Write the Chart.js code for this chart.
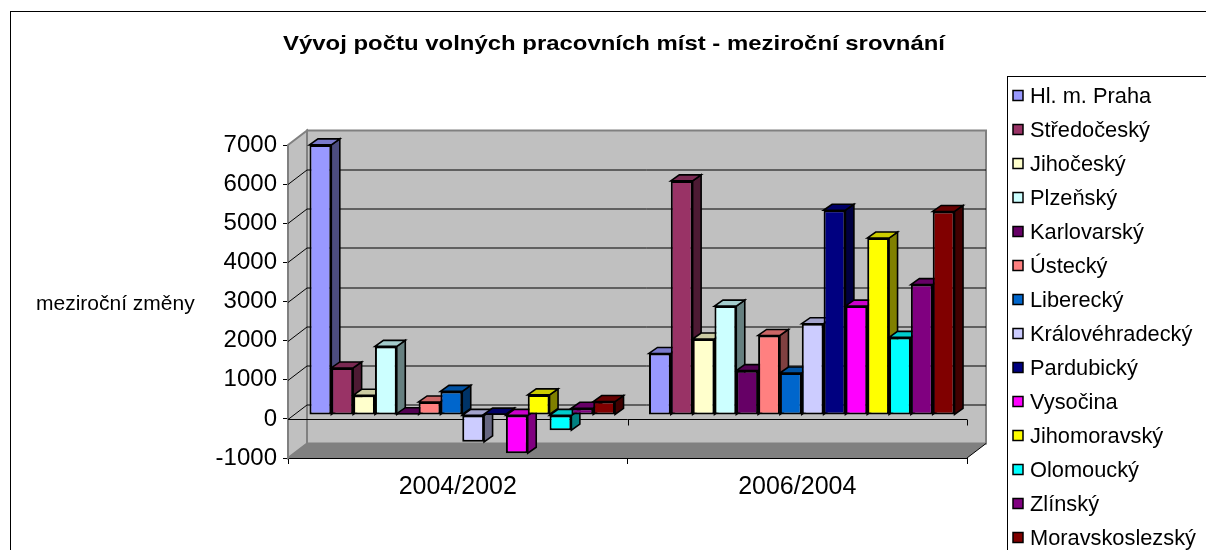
<!DOCTYPE html>
<html><head><meta charset="utf-8">
<script src="https://cdn.jsdelivr.net/npm/chart.js@4/dist/chart.umd.min.js"></script>
<style>html,body{margin:0;padding:0;background:#fff;overflow:hidden}#wrap{width:1206px;height:550px;position:relative}</style>
</head><body><div id="wrap"><canvas id="c" width="1206" height="550"></canvas></div>
<script>
// ---- data ----
const categories = ['2004/2002', '2006/2004'];
const regions = ['Hl. m. Praha', 'Středočeský', 'Jihočeský', 'Plzeňský', 'Karlovarský', 'Ústecký', 'Liberecký', 'Královéhradecký', 'Pardubický', 'Vysočina', 'Jihomoravský', 'Olomoucký', 'Zlínský', 'Moravskoslezský'];
const change2004_2002 = [6900, 1200, 500, 1750, 30, 330, 600, -690, 20, -980, 510, -390, 170, 340];
const change2006_2004 = [1570, 5980, 1940, 2780, 1130, 2030, 1070, 2330, 5230, 2780, 4520, 1980, 3330, 5200];
const regionColors = ['#9999FF', '#993366', '#FFFFCC', '#CCFFFF', '#660066', '#FF8080', '#0066CC', '#CCCCFF', '#000080', '#FF00FF', '#FFFF00', '#00FFFF', '#800080', '#800000'];
const yMin = -1000, yMax = 7000, yStep = 1000;
const chartTitle = 'Vývoj počtu volných pracovních míst - meziroční srovnání';
const yTitle = 'meziroční změny';

// ---- styling ----
const FONT = '"Liberation Sans", Arial, Helvetica, sans-serif';
const WALL = {dx: 19, dy: -14.5};
const BAR = {dx: 4.5, dy: -4, ddx: 8.5, ddy: -6};

function shade(hex, f) {
  const n = parseInt(hex.slice(1), 16);
  const r = (n >> 16) & 255, g = (n >> 8) & 255, b = n & 255;
  return 'rgb(' + Math.round(r * f) + ',' + Math.round(g * f) + ',' + Math.round(b * f) + ')';
}
function poly(ctx, pts, fill, stroke, lw) {
  ctx.beginPath();
  ctx.moveTo(pts[0][0], pts[0][1]);
  for (let i = 1; i < pts.length; i++) ctx.lineTo(pts[i][0], pts[i][1]);
  ctx.closePath();
  if (fill) { ctx.fillStyle = fill; ctx.fill(); }
  if (stroke) { ctx.strokeStyle = stroke; ctx.lineWidth = lw || 1; ctx.lineJoin = 'miter'; ctx.stroke(); }
}
function seg(ctx, x1, y1, x2, y2) { ctx.beginPath(); ctx.moveTo(x1, y1); ctx.lineTo(x2, y2); ctx.stroke(); }
function stretchedText(ctx, text, cx, y, targetW) {
  const w = ctx.measureText(text).width;
  const s = targetW / w;
  ctx.save();
  ctx.translate(cx, y);
  ctx.scale(s, 1);
  ctx.textAlign = 'center';
  ctx.fillText(text, 0, 0);
  ctx.restore();
}

function barBoxes(chart) {
  const out = [];
  chart.data.datasets.forEach((ds, i) => {
    const meta = chart.getDatasetMeta(i);
    meta.data.forEach(el => {
      const p = el.getProps(['x', 'y', 'base', 'width'], true);
      out.push({color: ds.backgroundColor, xl: p.x - p.width / 2, xr: p.x + p.width / 2,
        top: Math.min(p.y, p.base), bot: Math.max(p.y, p.base)});
    });
  });
  return out;
}

const excel3d = {
  id: 'excel3d',
  beforeDatasetsDraw(chart) {
    const ctx = chart.ctx, a = chart.chartArea, y = chart.scales.y;
    const L = a.left, R = a.right, T = a.top, B = a.bottom, dx = WALL.dx, dy = WALL.dy;
    ctx.save();
    poly(ctx, [[L, T], [L + dx, T + dy], [L + dx, B + dy], [L, B]], '#c0c0c0', '#808080', 2);
    poly(ctx, [[L + dx, T + dy], [R + dx, T + dy], [R + dx, B + dy], [L + dx, B + dy]], '#c0c0c0', '#808080', 2);
    poly(ctx, [[L, B], [L + dx, B + dy], [R + dx, B + dy], [R, B]], '#808080', null);
    ctx.strokeStyle = '#000'; ctx.lineWidth = 1;
    seg(ctx, R, B, R + dx, B + dy);
    y.ticks.forEach(t => {
      if (t.value <= yMin || t.value >= yMax) return;
      const py = Math.round(y.getPixelForValue(t.value)) + 0.5;
      ctx.beginPath();
      ctx.moveTo(L, py); ctx.lineTo(L + dx, py + dy); ctx.lineTo(R + dx, py + dy);
      ctx.stroke();
    });
    // front category axis at value 0
    const y0 = Math.round(y.getPixelForValue(0)) + 0.5;
    seg(ctx, L, y0, R, y0);
    for (let i = 1; i <= categories.length; i++) {
      const px = Math.round(L + (R - L) * i / categories.length) + 0.5;
      seg(ctx, px, y0, px, y0 + 6);
    }
    ctx.restore();
    // bars are set back into depth; draw their side and top faces first
    ctx.save();
    ctx.translate(BAR.dx, BAR.dy);
    const boxes = barBoxes(chart);
    boxes.forEach(b => {
      poly(ctx, [[b.xr, b.top], [b.xr + BAR.ddx, b.top + BAR.ddy], [b.xr + BAR.ddx, b.bot + BAR.ddy], [b.xr, b.bot]], shade(b.color, 0.5), '#000', 1.6);
    });
    boxes.forEach(b => {
      poly(ctx, [[b.xl, b.top], [b.xl + BAR.ddx, b.top + BAR.ddy], [b.xr + BAR.ddx, b.top + BAR.ddy], [b.xr, b.top]], shade(b.color, 0.8), '#000', 1.6);
    });
  },
  afterDatasetsDraw(chart) { chart.ctx.restore(); },
  afterDraw(chart) {
    const ctx = chart.ctx;
    ctx.save();
    ctx.strokeStyle = '#000'; ctx.lineWidth = 1;
    ctx.strokeRect(10.5, 11.5, 1400, 700);
    ctx.fillStyle = '#000';
    ctx.font = 'bold 20.5px ' + FONT;
    ctx.textBaseline = 'alphabetic';
    stretchedText(ctx, chartTitle, 614, 49.5, 662);
    ctx.font = '21px ' + FONT;
    ctx.textAlign = 'left';
    ctx.fillText(yTitle, 36, 310);
    ctx.strokeRect(1007.5, 76.5, 400, 600);
    chart.data.datasets.forEach((ds, i) => {
      const cy = 95.5 + i * 34;
      ctx.fillStyle = ds.backgroundColor;
      ctx.fillRect(1013, cy - 5, 10, 10);
      ctx.lineWidth = 1.5; ctx.strokeStyle = '#000';
      ctx.strokeRect(1013, cy - 5, 10, 10);
      ctx.fillStyle = '#000';
      ctx.font = '21.8px ' + FONT;
      ctx.textAlign = 'left'; ctx.textBaseline = 'alphabetic';
      ctx.fillText(ds.label, 1030, cy + 7.5);
    });
    ctx.restore();
  }
};

const datasets = regions.map((name, i) => ({
  label: name,
  data: [change2004_2002[i], change2006_2004[i]],
  backgroundColor: regionColors[i],
  borderColor: '#000',
  borderWidth: 2,
  borderSkipped: false,
  clip: false
}));

new Chart(document.getElementById('c'), {
  type: 'bar',
  data: {labels: categories, datasets},
  plugins: [excel3d],
  options: {
    responsive: false,
    animation: false,
    devicePixelRatio: 1,
    layout: {padding: {left: 0, right: 239, top: 145, bottom: 0}},
    datasets: {bar: {categoryPercentage: 0.9, barPercentage: 1.0}},
    plugins: {legend: {display: false}, title: {display: false}, tooltip: {enabled: false}},
    scales: {
      x: {
        grid: {display: true, drawOnChartArea: false, offset: true, tickLength: 6, color: '#000'},
        border: {display: true, color: '#000', width: 1},
        ticks: {font: {family: FONT, size: 25}, color: '#000', padding: 8},
        afterFit(s) { s.height = 92; }
      },
      y: {
        min: yMin, max: yMax,
        grid: {display: true, drawOnChartArea: false, tickLength: 5, color: '#000'},
        border: {display: true, color: '#000', width: 1},
        ticks: {stepSize: yStep, font: {family: FONT, size: 24}, color: '#000', padding: 6,
          callback: v => String(v)},
        afterFit(s) { s.width = 288; }
      }
    }
  }
});
</script>
</body></html>
